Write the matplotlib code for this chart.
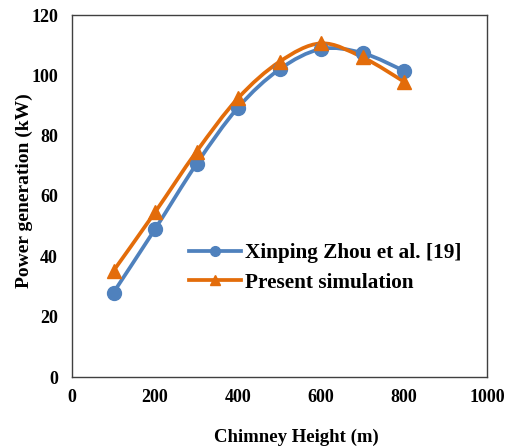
import matplotlib
matplotlib.use("Agg")
import matplotlib.pyplot as plt
import numpy as np
from matplotlib.path import Path
from matplotlib.patches import PathPatch
from matplotlib.lines import Line2D

heights = [100, 200, 300, 400, 500, 600, 700, 800]
zhou = [28.0, 49.0, 70.6, 89.3, 102.0, 108.7, 107.4, 101.5]
present = [35.2, 54.6, 74.7, 92.4, 104.5, 110.6, 106.0, 97.9]
xticks = [0, 200, 400, 600, 800, 1000]
yticks = [0, 20, 40, 60, 80, 100, 120]

blue = "#4F81BD"
orange = "#E36C0A"

plt.rcParams['font.family'] = ['Liberation Serif', 'DejaVu Serif']
plt.rcParams['font.weight'] = 'bold'

fig = plt.figure(figsize=(5.16, 4.47), dpi=100)
ax = fig.add_axes([72/516, 1-377/447, (487-72)/516, (377-15)/447])


def smooth_path(x, y, t=1/6):
    x = np.asarray(x, float); y = np.asarray(y, float)
    verts = [(x[0], y[0])]
    codes = [Path.MOVETO]
    n = len(x)
    for i in range(n - 1):
        i0 = max(i - 1, 0); i3 = min(i + 2, n - 1)
        c1 = (x[i] + (x[i+1] - x[i0]) * t, y[i] + (y[i+1] - y[i0]) * t)
        c2 = (x[i+1] - (x[i3] - x[i]) * t, y[i+1] - (y[i3] - y[i]) * t)
        verts += [c1, c2, (x[i+1], y[i+1])]
        codes += [Path.CURVE4] * 3
    return Path(verts, codes)


for ys, col, mk, ms in [(zhou, blue, 'o', 10), (present, orange, '^', 10)]:
    ax.add_patch(PathPatch(smooth_path(heights, ys), fill=False, edgecolor=col, lw=2.7, zorder=2))
    ax.plot(heights, ys, linestyle='none', marker=mk, ms=ms, color=col, zorder=3)

ax.set_xlim(0, 1000)
ax.set_ylim(0, 120)
ax.set_xticks(xticks)
ax.set_yticks(yticks)
ax.tick_params(length=0, labelsize=13)
ax.tick_params(axis='x', pad=9)
ax.tick_params(axis='y', pad=10)
for lab in ax.get_xticklabels() + ax.get_yticklabels():
    lab.set_fontweight('bold')
for s in ax.spines.values():
    s.set_color('#404040')
    s.set_linewidth(1.0)

ax.set_xlabel("Chimney Height (m)", fontsize=13.5, fontweight='bold')
ax.xaxis.set_label_coords((296-72)/415, -(437-377)/362, transform=ax.transAxes)
ax.xaxis.label.set_va('center')
ax.set_ylabel("Power generation (kW)", fontsize=14, fontweight='bold')
ax.yaxis.set_label_coords(-(72-24)/415, (377-191)/362, transform=ax.transAxes)
ax.yaxis.label.set_va('center')

handles = [Line2D([], [], color=blue, lw=2.7, marker='o', ms=7),
           Line2D([], [], color=orange, lw=2.7, marker='^', ms=7)]
ax.legend(handles, ["Xinping Zhou et al. [19]", "Present simulation"], frameon=False,
          loc='upper left', bbox_to_anchor=((189-72)/415, 1-(243-15)/362),
          prop={'family': 'Liberation Serif', 'weight': 'bold', 'size': 15.3},
          handlelength=2.45, handletextpad=0.2, labelspacing=0.45, borderaxespad=0, borderpad=0)

fig.savefig("out.png", dpi=100)
